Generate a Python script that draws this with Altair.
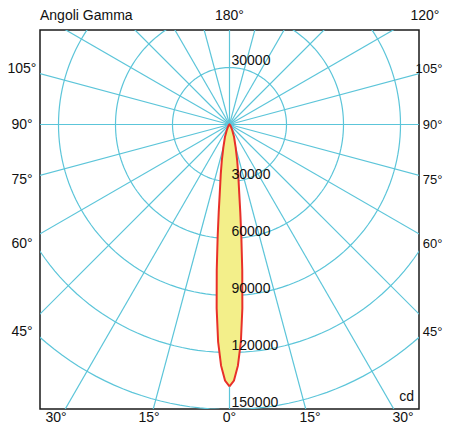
import altair as alt
import pandas as pd
import numpy as np

# ---- data ----
gamma_deg = [0, 1, 2, 3, 4, 5, 6, 7, 8, 10, 12, 15, 20, 25, 30, 40, 60, 90, 180]
intensity_cd = [137800, 134800, 127000, 114500, 97000, 77000, 59700, 46600, 37000,
                26500, 19500, 12500, 7000, 3500, 1800, 700, 200, 0, 0]
ring_values = [30000, 60000, 90000, 120000, 150000]
ray_angles = list(range(0, 360, 15))

bottom_labels = ["30°", "15°", "0°", "15°", "30°"]
bottom_angles = [-30, -15, 0, 15, 30]
side_labels = ["105°", "90°", "75°", "60°", "45°"]
side_angles = [105, 90, 75, 60, 45]
top_labels = ["180°", "120°"]
top_angles = [180, 120]

# ---- geometry helpers (px of plot area -> cd) ----
W, H = 379, 379
CXp, CYp = 189.5, 94.5          # pole inside plot area, px
K = 150000 / 285.0              # cd per px
xdom = [-CXp * K, (W - CXp) * K]
ydom = [-(H - CYp) * K, CYp * K]

GRID = "#5cc5d9"
FONT = "Liberation Sans"
TXT = "#111111"

# lobe (symmetric about the vertical)
g = np.radians(gamma_deg)
I = np.array(intensity_cd, dtype=float)
xr, yr = I * np.sin(g), -I * np.cos(g)
lobe = pd.DataFrame({
    "x": np.concatenate([xr, -xr[::-1]]),
    "y": np.concatenate([yr, yr[::-1]]),
})
lobe["o"] = range(len(lobe))

# rings
t = np.radians(np.arange(0, 361, 2))
rings = pd.concat([pd.DataFrame({"r": r, "o": np.arange(len(t)),
                                 "x": r * np.sin(t), "y": r * np.cos(t)}) for r in ring_values])

# rays
R = 400000
rays = pd.DataFrame({"a": ray_angles})
rays["x"] = 0.0
rays["y"] = 0.0
rays["x2"] = R * np.sin(np.radians(rays["a"]))
rays["y2"] = R * np.cos(np.radians(rays["a"]))

# ring value labels
ringlab = pd.DataFrame({
    "txt": [str(v) for v in [30000] + ring_values],
    "y": [30000] + [-v for v in ring_values],
})
ringlab["x"] = 0.0

# angle labels around the frame
yb = -(418 - 124.5) * K
bottom = pd.DataFrame({
    "txt": bottom_labels,
    "x": [-(425 - 124.5) * K * np.tan(np.radians(a)) for a in bottom_angles],
    "y": yb,
})
xs = 207.5 * K
left = pd.DataFrame({
    "txt": side_labels,
    "x": -xs,
    "y": [-xs / np.tan(np.radians(a)) for a in side_angles],
})
right = pd.DataFrame({
    "txt": side_labels,
    "x": (442.5 - 229.5) * K,
    "y": [-xs / np.tan(np.radians(a)) for a in side_angles],
})
yt = (124.5 - 16) * K
top = pd.DataFrame({
    "txt": top_labels,
    "x": [0.0, (425 - 229.5) * K],
    "y": yt,
})
centered = pd.concat([bottom, left, top])

xs_ = alt.Scale(domain=xdom, nice=False, zero=False)
ys_ = alt.Scale(domain=ydom, nice=False, zero=False)
X = lambda f="x": alt.X(f"{f}:Q", scale=xs_, axis=None)
Y = lambda f="y": alt.Y(f"{f}:Q", scale=ys_, axis=None)

ray_layer = alt.Chart(rays).mark_rule(color=GRID, strokeWidth=1.2, clip=True).encode(
    x=X(), y=Y(), x2="x2:Q", y2="y2:Q")

ring_layer = alt.Chart(rings).mark_line(color=GRID, strokeWidth=1.2, clip=True).encode(
    x=X(), y=Y(), detail="r:N", order="o:Q")

lobe_layer = alt.Chart(lobe).mark_line(stroke="#e8302a", strokeWidth=2, fill="#f3ef8a",
                                       interpolate="linear").encode(
    x=X(), y=Y(), order="o:Q")

ring_text = alt.Chart(ringlab).mark_text(align="left", baseline="alphabetic", dx=2, dy=-3,
                                         font=FONT, fontSize=14, color=TXT).encode(
    x=X(), y=Y(), text="txt:N")

ang_text = alt.Chart(centered).mark_text(align="center", baseline="middle",
                                         font=FONT, fontSize=14, color=TXT).encode(
    x=X(), y=Y(), text="txt:N")

right_text = alt.Chart(right).mark_text(align="right", baseline="middle",
                                        font=FONT, fontSize=13, color=TXT).encode(
    x=X(), y=Y(), text="txt:N")

misc = pd.DataFrame({"txt": ["Angoli Gamma", "cd"],
                     "x": [-CXp * K, (414 - 229.5) * K],
                     "y": [yt, (124.5 - 397) * K],
                     "al": ["left", "right"]})
misc_l = alt.Chart(misc[misc.al == "left"]).mark_text(align="left", baseline="middle",
                                                      font=FONT, fontSize=14, color=TXT).encode(
    x=X(), y=Y(), text="txt:N")
misc_r = alt.Chart(misc[misc.al == "right"]).mark_text(align="right", baseline="middle",
                                                       font=FONT, fontSize=14, color=TXT).encode(
    x=X(), y=Y(), text="txt:N")

chart = alt.layer(ray_layer, ring_layer, lobe_layer, ring_text, ang_text, right_text,
                  misc_l, misc_r).properties(
    width=W, height=H,
    autosize=alt.AutoSizeParams(type="none"),
    padding={"left": 32, "top": 22, "right": 24, "bottom": 15},
    background="white",
).configure_view(stroke="#1a1a1a", strokeWidth=1.5)

chart.save("out.html", embed_options={"renderer": "svg", "actions": False})
